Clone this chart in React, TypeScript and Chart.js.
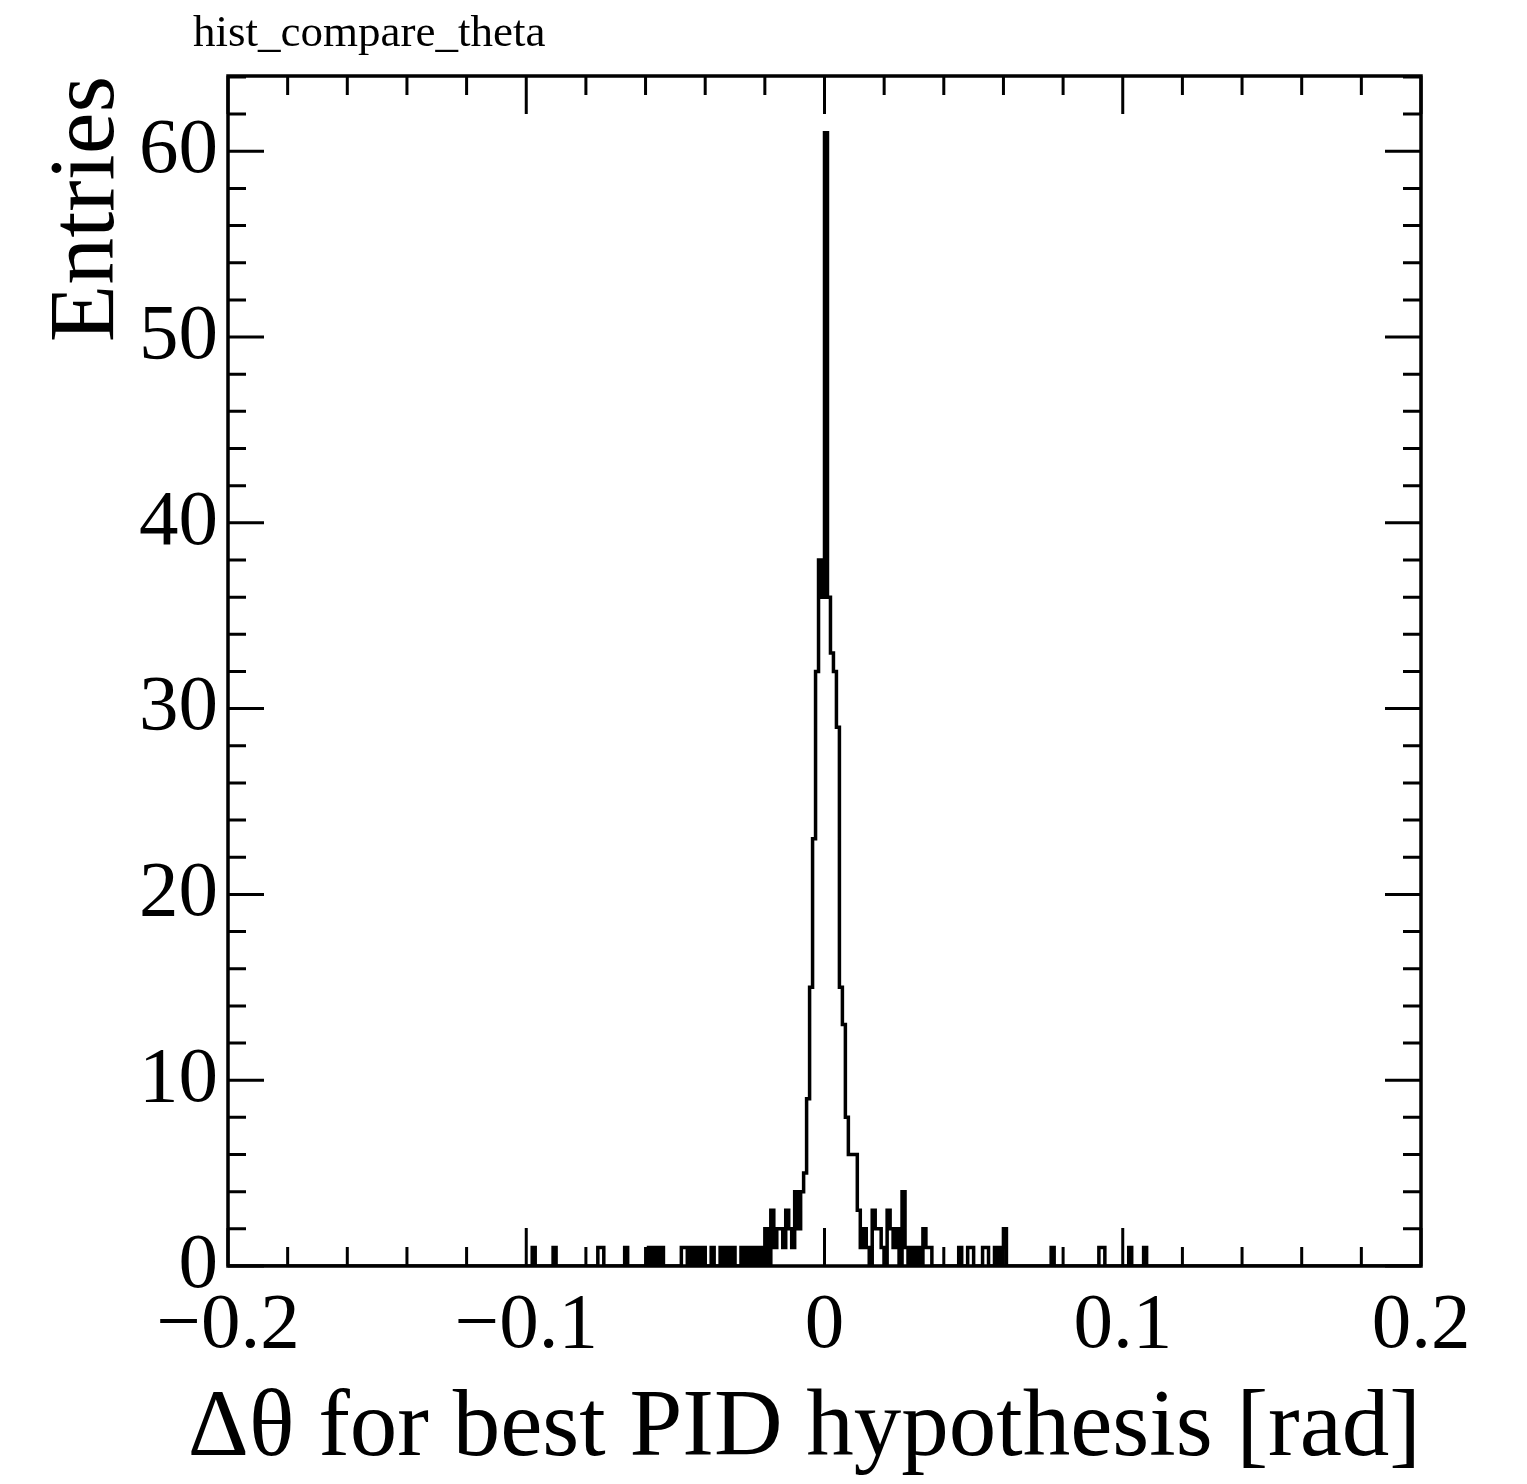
import React, { useEffect, useRef } from "react";
import { Chart, registerables } from "chart.js";

Chart.register(...registerables);

// ---- data -------------------------------------------------------------
const X_MIN = -0.2;
const X_MAX = 0.2;
const N_BINS = 400; // bin width 0.001 rad
const Y_MAX = 64.05;

const chartTitle = "hist_compare_theta";
const xAxisTitle = "\u0394\u03b8 for best PID hypothesis [rad]";
const yAxisTitle = "Entries";

const xTickValues = [-0.2, -0.1, 0, 0.1, 0.2];
const yTickValues = [0, 10, 20, 30, 40, 50, 60];

// non-empty bins: bin index i covers [X_MIN + 0.001*i, X_MIN + 0.001*(i+1))
const filledBins = [
  102, 109, 124, 125, 133, 141, 143, 145, 152, 153, 155, 157, 159, 162, 165,
  167, 169, 172, 174, 176, 178, 180, 182, 183, 184, 185, 186, 187, 188, 189,
  190, 191, 192, 193, 194, 195, 196, 197, 198, 199, 200, 201, 202, 203, 204,
  205, 206, 207, 208, 209, 210, 211, 212, 213, 214, 216, 217, 218, 219, 221,
  222, 223, 224, 226, 227, 229, 231, 233, 234, 235, 245, 248, 249, 253, 254,
  257, 259, 260, 276, 292, 293, 302, 307,
];
const binCounts = [
  1, 1, 1, 1, 1, 1, 1, 1, 1, 1, 1, 1, 1, 1, 1,
  1, 1, 1, 1, 1, 1, 2, 3, 1, 2, 2, 1, 3, 2, 1,
  4, 2, 4, 5, 9, 15, 23, 32, 38, 36, 61, 36, 33, 32, 29,
  15, 13, 8, 6, 6, 6, 3, 1, 2, 1, 3, 2, 2, 1, 3,
  2, 1, 2, 4, 1, 1, 1, 2, 1, 1, 1, 1, 1, 1, 1,
  1, 1, 2, 1, 1, 1, 1, 1,
];

// ---- styling ----------------------------------------------------------
const FONT = "'Liberation Serif', 'DejaVu Serif', Times, serif";
const W = 1527;
const H = 1484;
const PLOT_LEFT = 228;
const PLOT_RIGHT = 1421;
const PLOT_TOP = 76;
const PLOT_BOTTOM = 1266;

function fmtX(v: number): string {
  const r = Math.round(v * 10) / 10;
  if (r === 0) return "0";
  return r < 0 ? "\u2212" + Math.abs(r).toString() : r.toString();
}

const framePlugin = {
  id: "rootFrame",
  afterDraw(chart: any) {
    const { ctx, chartArea: a, scales } = chart;
    const xs = scales.x;
    const ys = scales.y;
    ctx.save();
    ctx.strokeStyle = "#000";
    ctx.lineWidth = 3;
    ctx.lineCap = "butt";
    ctx.beginPath();
    // x ticks (major 0.1, minor 0.02) on bottom and top
    const nx = Math.round((X_MAX - X_MIN) / 0.02);
    for (let k = 0; k <= nx; k++) {
      const v = X_MIN + k * 0.02;
      const px = xs.getPixelForValue(v);
      const len = k % 5 === 0 ? 38 : 19;
      ctx.moveTo(px, a.bottom);
      ctx.lineTo(px, a.bottom - len);
      ctx.moveTo(px, a.top);
      ctx.lineTo(px, a.top + len);
    }
    // y ticks (major 10, minor 2) on left and right
    for (let v = 0; v <= Y_MAX; v += 2) {
      const py = ys.getPixelForValue(v);
      const len = v % 10 === 0 ? 36 : 18;
      ctx.moveTo(a.left, py);
      ctx.lineTo(a.left + len, py);
      ctx.moveTo(a.right, py);
      ctx.lineTo(a.right - len, py);
    }
    ctx.stroke();
    ctx.lineWidth = 3.5;
    ctx.strokeRect(a.left, a.top, a.right - a.left, a.bottom - a.top);

    ctx.fillStyle = "#000";
    ctx.font = `45px ${FONT}`;
    ctx.textAlign = "left";
    ctx.textBaseline = "alphabetic";
    ctx.fillText(chartTitle, 193, 46);

    // x-axis title, right-aligned to the frame's right edge
    ctx.font = `95px ${FONT}`;
    ctx.textAlign = "right";
    ctx.fillText(xAxisTitle, a.right, 1455);
    ctx.restore();
  },
};

export default function App() {
  const canvasRef = useRef<HTMLCanvasElement | null>(null);

  useEffect(() => {
    const canvas = canvasRef.current;
    if (!canvas) return;

    const counts: number[] = new Array(N_BINS).fill(0);
    filledBins.forEach((b, j) => {
      counts[b] = binCounts[j];
    });
    const binW = (X_MAX - X_MIN) / N_BINS;
    const points = counts.map((c, i) => ({ x: X_MIN + i * binW, y: c }));
    points.push({ x: X_MAX, y: counts[N_BINS - 1] });

    const chart = new Chart(canvas, {
      type: "line",
      data: {
        datasets: [
          {
            data: points,
            stepped: "before",
            borderColor: "#000",
            borderWidth: 3.5,
            pointRadius: 0,
            fill: false,
            tension: 0,
            borderJoinStyle: "miter",
            borderCapStyle: "butt",
          } as any,
        ],
      },
      options: {
        animation: false,
        responsive: false,
        maintainAspectRatio: false,
        events: [],
        layout: {
          padding: { left: 0, top: PLOT_TOP, right: W - PLOT_RIGHT, bottom: 0 },
          autoPadding: false,
        } as any,
        plugins: {
          legend: { display: false },
          tooltip: { enabled: false },
          title: { display: false },
        },
        scales: {
          x: {
            type: "linear",
            min: X_MIN,
            max: X_MAX,
            grid: { display: false, drawTicks: false },
            border: { display: false },
            afterBuildTicks: (s: any) => {
              s.ticks = xTickValues.map((v) => ({ value: v }));
            },
            afterFit: (s: any) => {
              s.height = H - PLOT_BOTTOM;
            },
            ticks: {
              autoSkip: false,
              maxRotation: 0,
              minRotation: 0,
              padding: 13,
              color: "#000",
              font: { family: FONT, size: 79, lineHeight: 1.2 },
              callback: (v: any) => fmtX(Number(v)),
            },
            title: { display: false },
          },
          y: {
            type: "linear",
            min: 0,
            max: Y_MAX,
            grid: { display: false, drawTicks: false },
            border: { display: false },
            afterBuildTicks: (s: any) => {
              s.ticks = yTickValues.map((v) => ({ value: v }));
            },
            afterFit: (s: any) => {
              s.width = PLOT_LEFT;
            },
            ticks: {
              autoSkip: false,
              padding: 10,
              color: "#000",
              font: { family: FONT, size: 79, lineHeight: 1.2 },
              callback: (v: any) => String(Math.round(Number(v))),
            },
            title: {
              display: true,
              text: yAxisTitle,
              align: "end",
              color: "#000",
              font: { family: FONT, size: 94, lineHeight: 1 },
              padding: { top: 41, bottom: 0 },
            },
          },
        },
      } as any,
      plugins: [framePlugin],
    });

    return () => {
      chart.destroy();
    };
  }, []);

  return (
    <div
      style={{
        position: "absolute",
        left: 0,
        top: 0,
        width: W,
        height: H,
        background: "#fff",
      }}
    >
      <canvas ref={canvasRef} width={W} height={H} style={{ display: "block" }} />
    </div>
  );
}
